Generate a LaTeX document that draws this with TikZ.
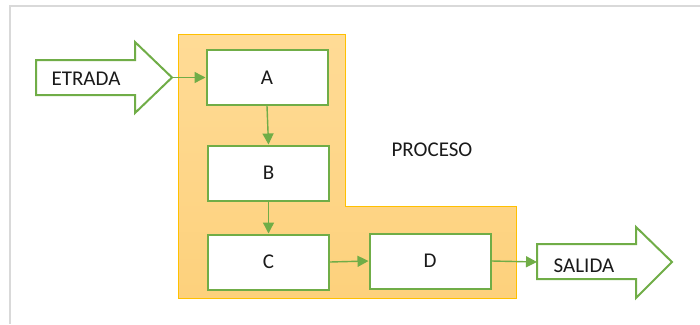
\documentclass[tikz,border=0pt]{standalone}
\usepackage{fontspec}
\setmainfont{Carlito}
\usetikzlibrary{arrows.meta}
\definecolor{grn}{HTML}{70AD47}
\definecolor{orgline}{HTML}{FFC000}
\definecolor{orgtop}{HTML}{FFDB96}
\definecolor{orgbot}{HTML}{FDD17C}
\definecolor{frame}{HTML}{D9D9D9}
\definecolor{txt}{HTML}{1A1A1A}
\tikzset{
  stepbox/.style={draw=grn, line width=2pt, fill=white, minimum width=121pt, minimum height=55pt, inner sep=0pt, font=\fontsize{21}{24}\selectfont, text=txt},
  blockarrow/.style={draw=grn, line width=2pt, fill=white, line join=miter},
  conn/.style={draw=grn, line width=1.4pt, -{Triangle[length=11pt,width=11pt]}},
  lbl/.style={font=\fontsize{21}{24}\selectfont, text=txt, inner sep=0pt}
}
\begin{document}
\begin{tikzpicture}[x=1pt,y=-1pt]
\useasboundingbox (0,0) rectangle (700,324);
% frame
\draw[frame, line width=2pt] (700,6) -- (10,6) -- (10,324);
% process region
\draw[orgline, line width=1pt, top color=orgtop, bottom color=orgbot]
  (178,34) -- (345,34) -- (345,206) -- (516,206) -- (516,298) -- (178,298) -- cycle;
\node[lbl] (proc) at (432,150) {PROCESO};
% input block arrow
\draw[blockarrow] (36,60) -- (135,60) -- (135,42) -- (172,77.5) -- (135,113) -- (135,95) -- (36,95) -- cycle;
\coordinate (etip) at (172,77.5);
\node[lbl] (etrada) at (86,79) {ETRADA};
% output block arrow
\draw[blockarrow] (537,244) -- (636,244) -- (636,227) -- (672,262) -- (636,298) -- (636,279) -- (537,279) -- cycle;
\coordinate (stail) at (537,262);
\node[lbl] (salida) at (584,266) {SALIDA};
% steps
\node[stepbox] (A) at (267,77.5) {A};
\node[stepbox] (B) at (268.5,173) {B};
\node[stepbox] (C) at (268.5,262) {C};
\node[stepbox] (D) at (430,261) {D};
% connectors
\draw[conn] (etip) -- (A.west);
\draw[conn] (A.south) -- (B.north);
\draw[conn] (B.south) -- (C.north);
\draw[conn] (C.east) -- (D.west);
\draw[conn] (D.east) -- (stail);
\end{tikzpicture}
\end{document}
